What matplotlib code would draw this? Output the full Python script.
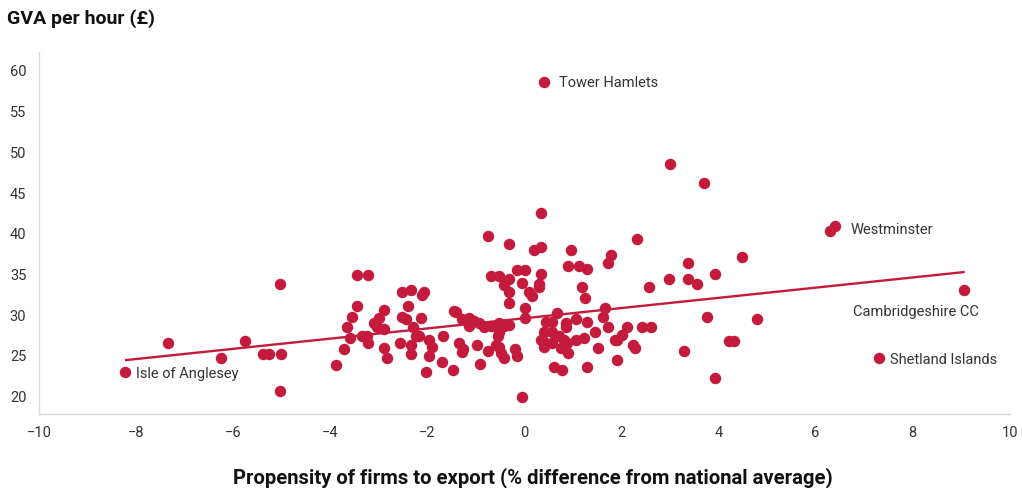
import matplotlib
matplotlib.use("Agg")
from matplotlib import pyplot as plt

# propensity to export (% diff from national avg) vs GVA per hour (GBP)
export_pct = [
    -8.23, -7.34, -6.25, -5.75, -5.38, -5.26, -5.01, -5.03, -5.03,
    -3.88, -3.71, -3.65, -3.59, -3.55, -3.44, -3.44, -3.22, -3.34, -3.24, -3.22,
    -3.09, -2.99, -3.03, -2.89, -2.89, -2.89, -2.82,
    -2.52, -2.33, -2.39, -2.52, -2.43, -2.29, -2.23, -2.56, -2.33, -2.33,
    -2.10, -2.06, -2.12, -2.16, -1.96, -1.90, -1.96, -2.02, -1.67, -1.69, -1.46,
    -1.44, -1.40, -1.28, -1.13, -1.03, -1.13, -0.93, -0.82, -0.68, -0.52, -0.41, -0.31,
    -0.52, -0.54, -1.34, -1.26, -1.28, -0.97, -0.91, -0.74, -0.58, -0.52, -0.47, -0.41,
    -0.19, -0.14, -0.04,
    -0.74, -0.31, -0.68, -0.52, -0.41, -0.31, -0.31, -0.31, -0.14, 0.02, -0.04,
    0.02, 0.02, 0.10, 0.16, 0.35, 0.21, 0.35, 0.41,
    0.97, 0.91, 1.13, 1.30, 1.79, 1.73, 0.35, 0.31, 0.31, 1.18, 1.26,
    0.68, 0.45, 0.58, 0.85, 0.85, 1.07, 1.30, 1.67, 1.63, 1.73, 1.46, 1.90,
    0.41, 0.41, 0.58, 0.58, 0.72, 0.35, 0.82, 0.89, 1.07, 1.24,
    0.41, 0.76, 0.91, 1.51, 1.90, 0.62, 0.78, 1.30,
    2.33, 2.56, 2.99, 3.38, 3.38, 3.55, 3.92, 3.77,
    2.12, 2.43, 2.62, 1.86, 2.02, 2.23, 2.29, 3.28, 3.92,
    3.01, 3.71, 6.29, 6.41, 4.49, 4.80, 4.21, 4.33, 9.05, 7.30,
]
gva_hour = [
    23.0, 26.6, 24.8, 26.9, 25.3, 25.3, 25.3, 33.8, 20.7,
    23.9, 25.9, 28.6, 27.2, 29.8, 31.2, 34.9, 34.9, 27.4, 27.4, 26.6,
    29.0, 29.7, 28.6, 30.6, 28.3, 26.0, 24.7,
    32.9, 33.1, 31.2, 29.8, 29.6, 28.5, 27.4, 26.6, 26.3, 25.3,
    32.5, 32.9, 29.7, 27.4, 27.0, 26.1, 25.0, 23.0, 27.4, 24.3, 23.3,
    30.5, 30.4, 29.6, 29.7, 29.3, 28.7, 29.1, 28.6, 28.7, 29.1, 28.7, 28.8,
    27.9, 27.5, 26.6, 25.9, 25.5, 26.3, 24.0, 25.6, 26.4, 26.1, 25.4, 24.7,
    25.8, 25.0, 20.0,
    39.75, 38.8, 34.85, 34.85, 33.7, 34.4, 32.8, 31.5, 35.5, 35.5, 34.0,
    30.9, 29.7, 32.9, 32.4, 42.6, 38.0, 38.4, 58.65,
    38.0, 36.1, 36.1, 35.7, 37.4, 36.4, 35.1, 33.9, 33.5, 33.5, 32.1,
    30.3, 29.2, 29.2, 29.1, 28.5, 29.6, 29.2, 30.9, 29.8, 28.6, 27.9, 27.0,
    27.9, 26.7, 27.9, 26.6, 27.4, 27.0, 27.0, 26.6, 27.0, 27.2,
    26.1, 26.0, 25.4, 26.0, 24.5, 23.7, 23.3, 23.7,
    39.4, 33.5, 34.5, 36.4, 34.5, 33.9, 35.1, 29.8,
    28.6, 28.6, 28.6, 27.0, 27.6, 26.4, 26.0, 25.6, 22.3,
    48.6, 46.3, 40.4, 41.0, 37.1, 29.6, 26.9, 26.9, 33.1, 24.7,
]

# fitted trend line end points
trend_x = [-8.2, 9.05]
trend_y = [24.5, 35.3]

labels = ["Tower Hamlets", "Westminster", "Cambridgeshire CC", "Shetland Islands", "Isle of Anglesey"]
label_x = [0.41, 6.41, 9.05, 7.30, -8.23]
label_y = [58.65, 41.0, 33.1, 24.7, 23.0]
label_offset = [(11, -1), (11, -3), (-80, -16), (8, -1), (8, -1)]

red = "#C41A3B"
txt = "#333333"

plt.rcParams["font.family"] = ["Roboto", "DejaVu Sans"]

fig = plt.figure(figsize=(10.22, 4.88), dpi=100)
ax = fig.add_axes([0.038, 0.152, 0.950, 0.741])

ax.scatter(export_pct, gva_hour, s=68, color=red, linewidths=0, zorder=3)
ax.plot(trend_x, trend_y, color=red, lw=1.7, zorder=2)

for name, lx, ly, off in zip(labels, label_x, label_y, label_offset):
    ax.annotate(name, (lx, ly), xytext=off, textcoords="offset points",
                ha="left", va="center", fontsize=10.5, color=txt)

ax.set_xlim(-10, 10)
ax.set_ylim(17.9, 62.3)
ax.set_xticks(range(-10, 11, 2))
ax.set_yticks(range(20, 61, 5))
ax.tick_params(length=0, labelsize=10.5, labelcolor=txt, pad=9)
for s in ["top", "right"]:
    ax.spines[s].set_visible(False)
for s in ["left", "bottom"]:
    ax.spines[s].set_color("#d9d9d9")
    ax.spines[s].set_linewidth(1)

fig.text(0.007, 0.962, "GVA per hour (£)", fontsize=14, fontweight="bold",
         color="#111111", ha="left", va="center")
fig.text(0.521, 0.022, "Propensity of firms to export (% difference from national average)",
         fontsize=14.6, fontweight="bold", color="#111111", ha="center", va="center")

fig.savefig("out.png", dpi=100)
